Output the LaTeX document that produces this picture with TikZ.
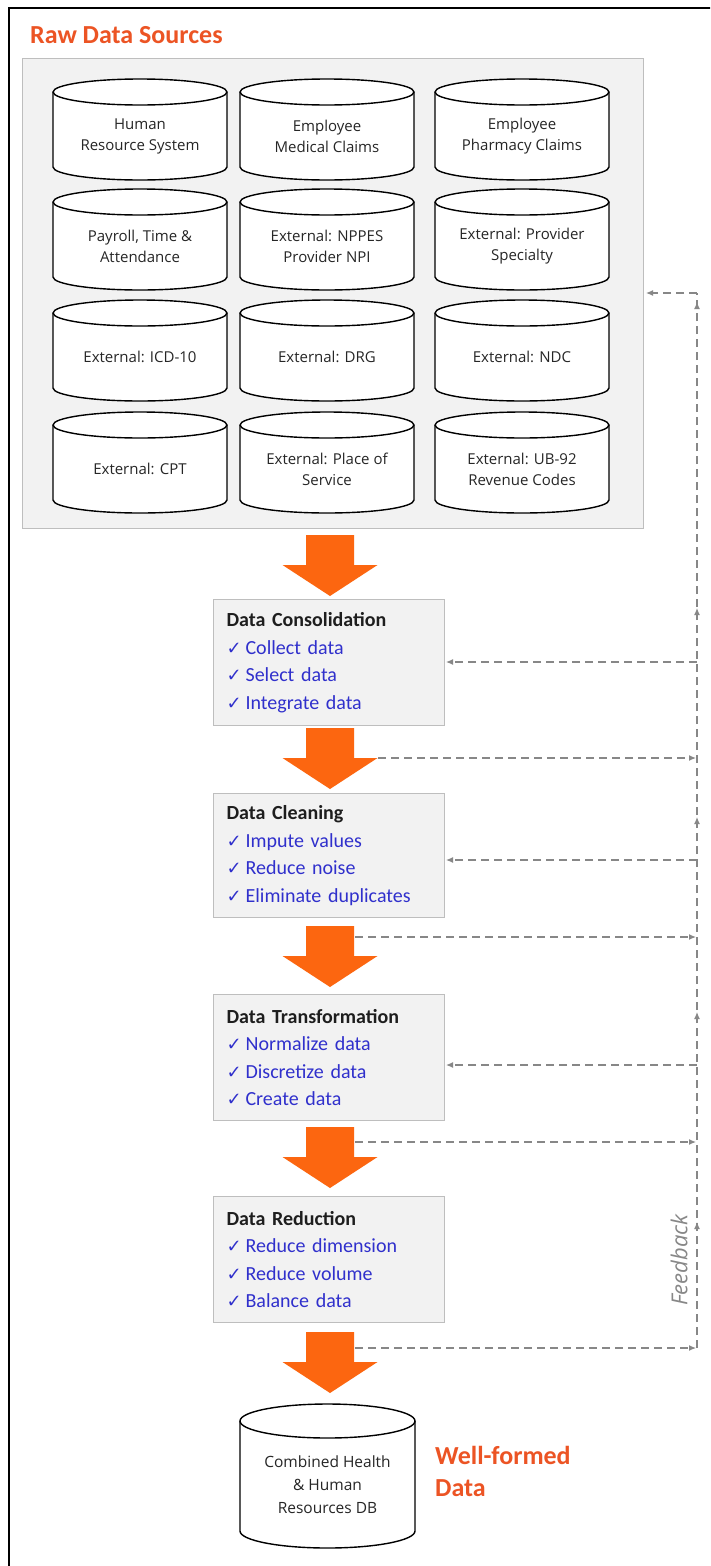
\documentclass[tikz,border=0pt]{standalone}
\usepackage{fontspec}
\setmainfont{Carlito}
\newfontfamily\cylfont{Open Sans}
\newfontfamily\symfont{DejaVu Sans}
\usetikzlibrary{arrows.meta,calc,decorations.markings}
\definecolor{hdorange}{RGB}{236,84,36}
\definecolor{arrorange}{RGB}{252,102,16}
\definecolor{itemblue}{RGB}{48,48,204}
\definecolor{boxfill}{RGB}{242,242,242}
\definecolor{boxline}{RGB}{190,190,190}
\definecolor{fbgray}{RGB}{135,135,135}
\definecolor{titleblack}{RGB}{30,30,30}
\newcommand\chk{{\symfont\fontsize{18}{18}\selectfont ✓}\hspace{4pt}}
\newcommand\itm[1]{{\color{itemblue}\chk #1}}
% #1 name, #2 cx, #3 top, #4 width, #5 height, #6 ry, #7 text style, #8 text
\newcommand\dbcyl[8]{%
 \filldraw[cylline] ({#2-#4/2},{-(#3+#6)}) -- ({#2-#4/2},{-(#3+#5-#6)})
   arc[start angle=180,end angle=360,x radius={#4/2*1pt},y radius={#6*1pt}]
   -- ({#2+#4/2},{-(#3+#6)})
   arc[start angle=0,end angle=180,x radius={#4/2*1pt},y radius={#6*1pt}] -- cycle;
 \draw[cylline] ({#2-#4/2},{-(#3+#6)})
   arc[start angle=180,end angle=360,x radius={#4/2*1pt},y radius={#6*1pt}];
 \node[#7] (#1) at (#2,{-(#3+#6+(#5-#6)/2)}) {#8};}
% #1 name, #2 top
\newcommand\blockarrow[2]{%
 \fill[arrorange] (306,{-#2}) -- (354,{-#2}) -- (354,{-(#2+30)}) -- (377.5,{-(#2+30)})
   -- (330,{-(#2+61)}) -- (282.5,{-(#2+30)}) -- (306,{-(#2+30)}) -- cycle;
 \coordinate (#1) at (330,{-(#2+30)});}
\begin{document}
\begin{tikzpicture}[x=1pt,y=1pt,
  cylline/.style={draw=black,fill=white,line width=1.4pt},
  cyltext/.style={font=\cylfont\fontsize{15}{21}\selectfont,align=center,inner sep=0pt,text=black!85},
  dbtext/.style={font=\cylfont\fontsize{15.5}{23}\selectfont,align=center,inner sep=0pt,text=black!85},
  rawbox/.style={anchor=north west,fill=boxfill,draw=boxline,line width=1pt,inner sep=0pt},
  stepbox/.style={anchor=north west,minimum width=231pt,minimum height=126pt,text width=205pt,
    inner xsep=13pt,inner ysep=0pt,align=left,fill=boxfill,draw=boxline,line width=1pt,
    font=\fontsize{20}{27.5}\selectfont,text=titleblack},
  fb/.style={draw=fbgray,line width=1.2pt,dash pattern=on 8pt off 5pt},
  fbtip/.style={-{Latex[length=7pt,width=6pt]}},
  heading/.style={font=\bfseries\fontsize{26}{32}\selectfont,text=hdorange,inner sep=0pt}]
\useasboundingbox (0,0) rectangle (710,-1566);
\clip (0,0) rectangle (710,-1566);
\fill[white] (0,0) rectangle (710,-1566);
\draw[line width=2pt] (9,-1580) -- (9,-8) -- (730,-8);

\node[heading,anchor=base west] (rawtitle) at (30,-43) {Raw Data Sources};
\node[rawbox,minimum width=621pt,minimum height=470pt] (raw) at (22,-58) {};

\dbcyl{s11}{140}{79}{174}{101}{13}{cyltext}{Human\\Resource System}
\dbcyl{s12}{327}{79}{174}{101}{13}{cyltext}{Employee\\Medical Claims}
\dbcyl{s13}{522}{79}{174}{101}{13}{cyltext}{Employee\\Pharmacy Claims}
\dbcyl{s21}{140}{189}{174}{101}{13}{cyltext}{Payroll, Time \&\\Attendance}
\dbcyl{s22}{327}{189}{174}{101}{13}{cyltext}{External: NPPES\\Provider NPI}
\dbcyl{s23}{522}{189}{174}{101}{13}{cyltext}{External: Provider\\Specialty}
\dbcyl{s31}{140}{300}{174}{101}{13}{cyltext}{External: ICD-10}
\dbcyl{s32}{327}{300}{174}{101}{13}{cyltext}{External: DRG}
\dbcyl{s33}{522}{300}{174}{101}{13}{cyltext}{External: NDC}
\dbcyl{s41}{140}{412}{174}{101}{13}{cyltext}{External: CPT}
\dbcyl{s42}{327}{412}{174}{101}{13}{cyltext}{External: Place of\\Service}
\dbcyl{s43}{522}{412}{174}{101}{13}{cyltext}{External: UB-92\\Revenue Codes}

\blockarrow{a1}{535}
\node[stepbox] (cons) at (213,-599) {\textbf{Data Consolidation}\\\itm{Collect data}\\\itm{Select data}\\\itm{Integrate data}};
\blockarrow{a2}{728}
\node[stepbox,minimum height=124pt] (clean) at (213,-793) {\textbf{Data Cleaning}\\\itm{Impute values}\\\itm{Reduce noise}\\\itm{Eliminate duplicates}};
\blockarrow{a3}{926}
\node[stepbox] (trans) at (213,-994) {\textbf{Data Transformation}\\\itm{Normalize data}\\\itm{Discretize data}\\\itm{Create data}};
\blockarrow{a4}{1127}
\node[stepbox] (reduce) at (213,-1196) {\textbf{Data Reduction}\\\itm{Reduce dimension}\\\itm{Reduce volume}\\\itm{Balance data}};
\blockarrow{a5}{1332}

\dbcyl{db}{327.5}{1404}{175}{144}{17}{dbtext}{Combined Health\\\& Human\\Resources DB}
\node[heading,anchor=north west,align=left] (wf) at (435,-1446) {Well-formed\\Data};

% feedback loop
\coordinate (vtop) at (697,-293);
\coordinate (vbot) at (697,-1348);
\draw[fb,postaction={decorate},decoration={markings,
   mark=at position 126pt with {\arrow[fbgray]{Latex[length=7pt,width=6pt]}},
   mark=at position 336pt with {\arrow[fbgray]{Latex[length=7pt,width=6pt]}},
   mark=at position 531pt with {\arrow[fbgray]{Latex[length=7pt,width=6pt]}},
   mark=at position 740pt with {\arrow[fbgray]{Latex[length=7pt,width=6pt]}},
   mark=at position 1046pt with {\arrow[fbgray]{Latex[length=7pt,width=6pt]}}}]
   (vbot) -- (vtop);
\draw[fb,fbtip] (vtop) -- ($(vtop -| raw.east)+(2,0)$);
\coordinate (c1) at (697,-662);
\coordinate (c2) at (697,-860);
\coordinate (c3) at (697,-1065);
\draw[fb,fbtip] (c1) -- ($(c1 -| cons.east)+(1,0)$);
\draw[fb,fbtip] (c2) -- ($(c2 -| clean.east)+(1,0)$);
\draw[fb,fbtip] (c3) -- ($(c3 -| trans.east)+(1,0)$);
\coordinate (r1) at (378,-758);
\coordinate (r2) at (355,-937);
\coordinate (r3) at (355,-1142);
\coordinate (r4) at (355,-1348);
\draw[fb,fbtip] (r1) -- ($(r1 -| vtop)+(-1,0)$);
\draw[fb,fbtip] (r2) -- ($(r2 -| vtop)+(-1,0)$);
\draw[fb,fbtip] (r3) -- ($(r3 -| vtop)+(-1,0)$);
\draw[fb,fbtip] (r4) -- ($(r4 -| vtop)+(-1,0)$);
\node[rotate=90,font=\cylfont\itshape\fontsize{22}{22}\selectfont,text=fbgray,inner sep=0pt] (fblabel) at (679,-1260) {Feedback};
\end{tikzpicture}
\end{document}
